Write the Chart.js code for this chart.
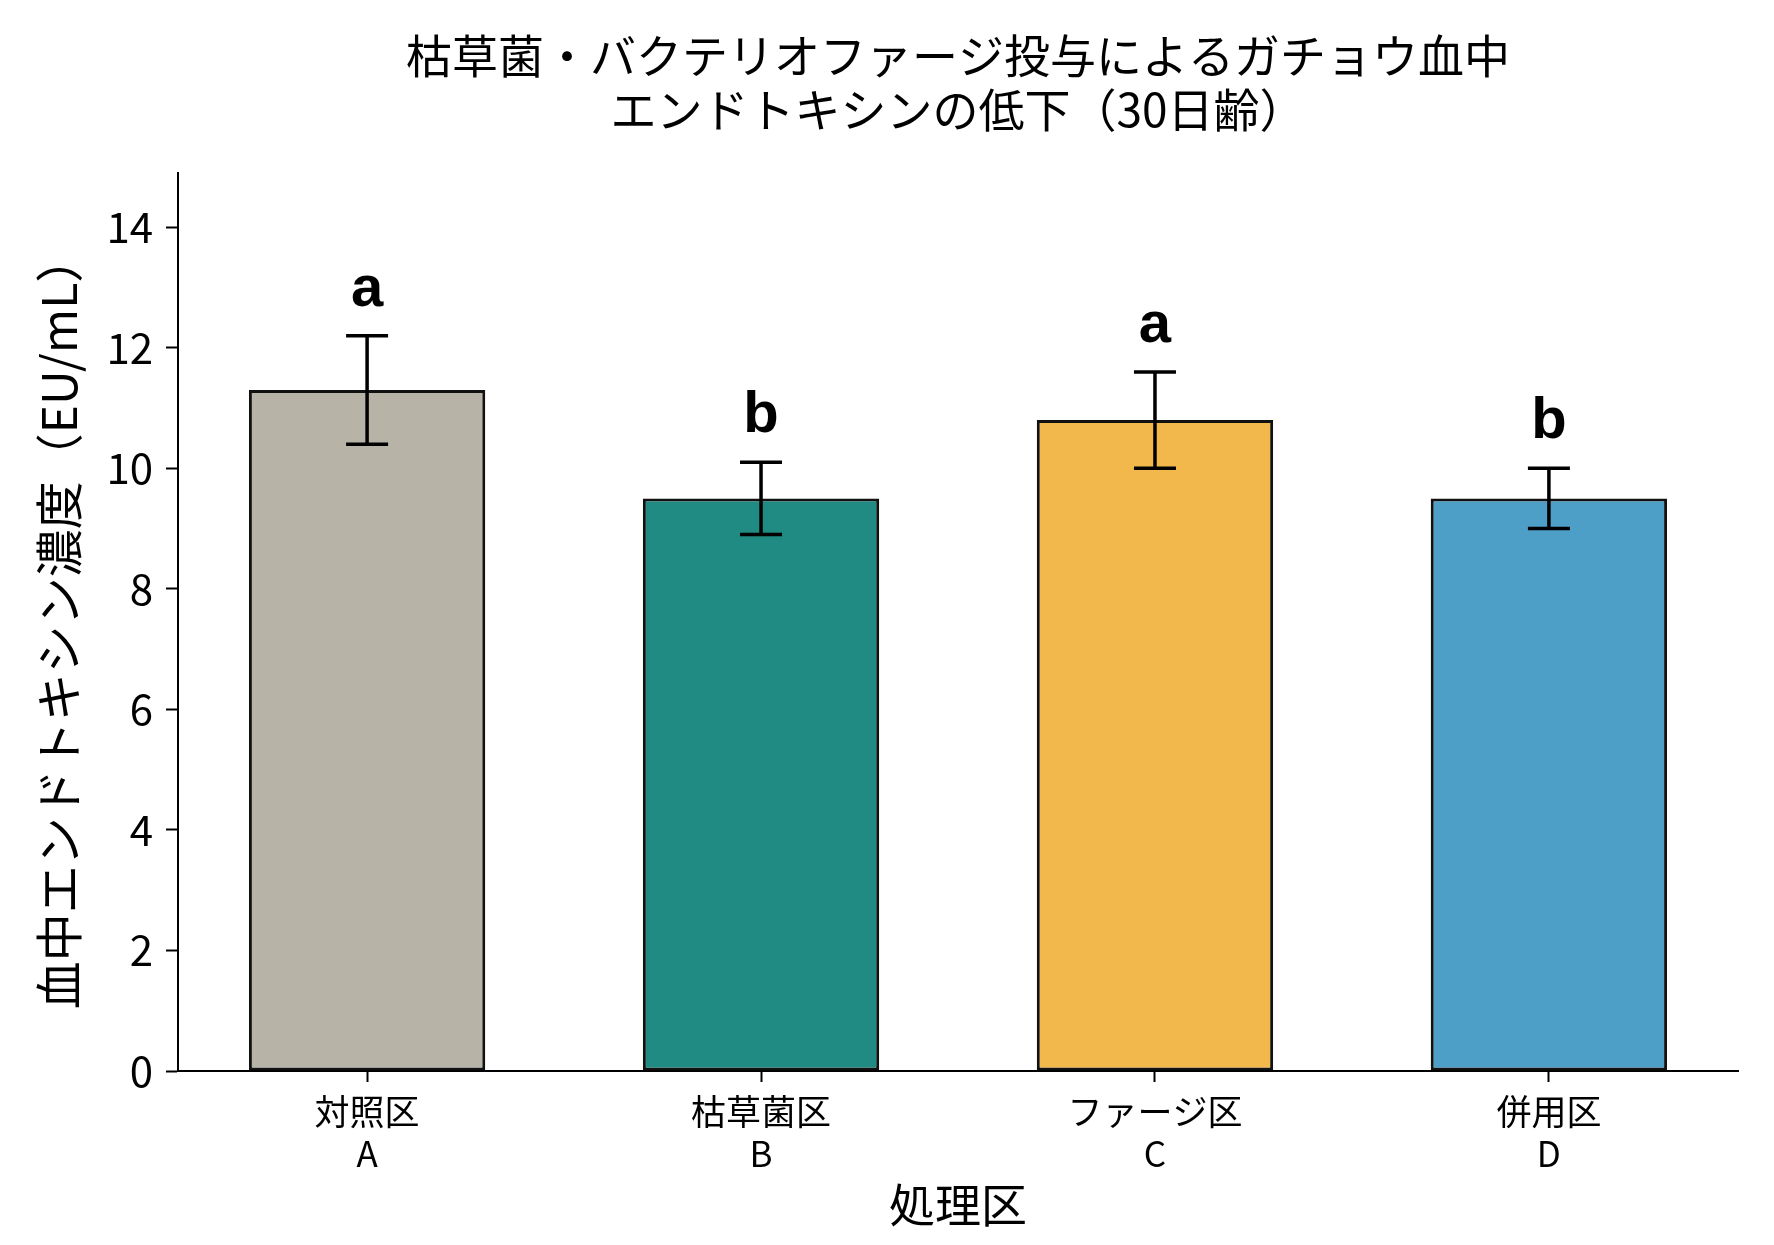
<!DOCTYPE html>
<html>
<head>
<meta charset="utf-8">
<script src="https://cdn.jsdelivr.net/npm/chart.js@4/dist/chart.umd.min.js"></script>
<style>
  html, body { margin: 0; padding: 0; background: #ffffff; }
  #wrap { width: 1774px; height: 1245px; }
</style>
</head>
<body>
<div id="wrap"><canvas id="c" width="1774" height="1245"></canvas></div>
<script>
// ---- data ----
const groupNames = ['対照区', '枯草菌区', 'ファージ区', '併用区'];
const groupCodes = ['A', 'B', 'C', 'D'];
const meanValues = [11.3, 9.5, 10.8, 9.5];
const sdValues = [0.9, 0.6, 0.8, 0.5];
const sigLetters = ['a', 'b', 'a', 'b'];
const barColors = ['#b7b3a7', '#1f8b82', '#f2b84c', '#4e9fc8'];
const yTickValues = [0, 2, 4, 6, 8, 10, 12, 14];
const titleLines = ['枯草菌・バクテリオファージ投与によるガチョウ血中', 'エンドトキシンの低下（30日齢）'];
const yAxisTitle = '血中エンドトキシン濃度（EU/mL）';
const xAxisTitle = '処理区';

const JP = "'Noto Sans CJK JP', 'Noto Sans', sans-serif";

const errorBarPlugin = {
  id: 'errorBars',
  afterDatasetsDraw(chart) {
    const ctx = chart.ctx;
    const xs = chart.scales.x, ys = chart.scales.y;
    ctx.save();
    ctx.strokeStyle = '#000';
    ctx.lineWidth = 3.5;
    ctx.lineCap = 'butt';
    const capHalf = 21;
    meanValues.forEach((m, i) => {
      const px = xs.getPixelForValue(i);
      const top = ys.getPixelForValue(m + sdValues[i]);
      const bot = ys.getPixelForValue(m - sdValues[i]);
      ctx.beginPath();
      ctx.moveTo(px, top); ctx.lineTo(px, bot);
      ctx.moveTo(px - capHalf, top); ctx.lineTo(px + capHalf, top);
      ctx.moveTo(px - capHalf, bot); ctx.lineTo(px + capHalf, bot);
      ctx.stroke();
      // significance letter
      ctx.fillStyle = '#000';
      ctx.font = "bold 58px 'Liberation Sans', Arial, sans-serif";
      ctx.textAlign = 'center';
      ctx.textBaseline = 'alphabetic';
      const ly = ys.getPixelForValue(m + sdValues[i] + 0.5);
      ctx.fillText(sigLetters[i], px, ly);
    });
    ctx.restore();
  }
};

new Chart(document.getElementById('c'), {
  type: 'bar',
  data: {
    datasets: [{
      data: meanValues.map((v, i) => ({ x: i, y: v })),
      backgroundColor: barColors,
      borderColor: '#111111',
      borderWidth: 3,
      borderSkipped: false,
      barPercentage: 0.6,
      categoryPercentage: 1.0
    }]
  },
  options: {
    responsive: false,
    devicePixelRatio: 1,
    animation: false,
    layout: { padding: { left: 0, right: 36, top: 0, bottom: 0 } },
    plugins: {
      legend: { display: false },
      tooltip: { enabled: false },
      title: {
        display: true,
        fullSize: false,
        text: titleLines,
        color: '#000',
        font: { family: JP, size: 46, weight: 'normal', lineHeight: 1.174 },
        padding: { top: 29, bottom: 36 }
      }
    },
    scales: {
      x: {
        type: 'linear',
        min: -0.48,
        max: 3.48,
        offset: false,
        afterBuildTicks(scale) {
          scale.ticks = groupNames.map((_, i) => ({ value: i }));
        },
        afterFit(scale) { scale.height = 174; },
        grid: {
          display: true,
          offset: false,
          drawOnChartArea: false,
          drawTicks: true,
          tickLength: 11,
          tickWidth: 2,
          tickColor: '#000'
        },
        border: { display: true, color: '#000', width: 2 },
        ticks: {
          autoSkip: false,
          maxRotation: 0,
          padding: 8,
          color: '#000',
          font: { family: JP, size: 35, lineHeight: 1.22 },
          callback(value) {
            const i = Math.round(value);
            return [groupNames[i], groupCodes[i]];
          }
        },
        title: {
          display: true,
          text: xAxisTitle,
          color: '#000',
          font: { family: JP, size: 46, lineHeight: 1.2 },
          padding: { top: 0, bottom: 13 }
        }
      },
      y: {
        min: 0,
        max: 14.9,
        afterBuildTicks(scale) {
          scale.ticks = yTickValues.map(v => ({ value: v }));
        },
        afterFit(scale) { scale.width = 178; },
        grid: {
          display: true,
          drawOnChartArea: false,
          drawTicks: true,
          tickLength: 12,
          tickWidth: 2,
          tickColor: '#000'
        },
        border: { display: true, color: '#000', width: 2 },
        ticks: {
          padding: 13,
          color: '#000',
          font: { family: JP, size: 42 },
          callback(value) { return String(value); }
        },
        title: {
          display: true,
          text: yAxisTitle,
          color: '#000',
          font: { family: JP, size: 48, lineHeight: 1.2 },
          padding: { top: 30, bottom: 0 }
        }
      }
    }
  },
  plugins: [errorBarPlugin]
});
</script>
</body>
</html>
